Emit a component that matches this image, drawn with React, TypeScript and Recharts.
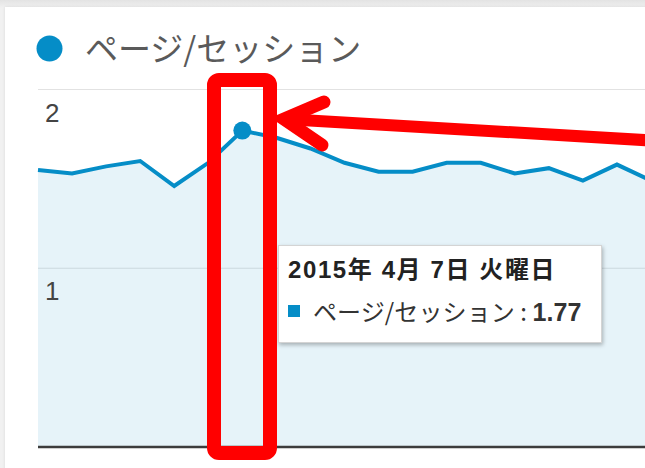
import { AreaChart, Area, XAxis, YAxis, CartesianGrid, Tooltip, ReferenceLine } from 'recharts';

const seriesName = 'ページ/セッション';

const dates = [
  '2015年 4月 1日 水曜日',
  '2015年 4月 2日 木曜日',
  '2015年 4月 3日 金曜日',
  '2015年 4月 4日 土曜日',
  '2015年 4月 5日 日曜日',
  '2015年 4月 6日 月曜日',
  '2015年 4月 7日 火曜日',
  '2015年 4月 8日 水曜日',
  '2015年 4月 9日 木曜日',
  '2015年 4月 10日 金曜日',
  '2015年 4月 11日 土曜日',
  '2015年 4月 12日 日曜日',
  '2015年 4月 13日 月曜日',
  '2015年 4月 14日 火曜日',
  '2015年 4月 15日 水曜日',
  '2015年 4月 16日 木曜日',
  '2015年 4月 17日 金曜日',
  '2015年 4月 18日 土曜日',
  '2015年 4月 19日 日曜日',
];

const pagesPerSession = [
  1.55, 1.53, 1.57, 1.6, 1.46, 1.59, 1.77, 1.73, 1.67, 1.59,
  1.54, 1.54, 1.59, 1.59, 1.53, 1.56, 1.49, 1.58, 1.49,
];

const yTicks = [1, 2];

const data = dates.map((date, i) => ({ date, value: pagesPerSession[i] }));

const BLUE = '#058dc7';
const RED = '#ff0000';
const latin = '"Liberation Sans", Arial, "Noto Sans CJK JP", sans-serif';
const jp = '"Noto Sans CJK JP", "Liberation Sans", sans-serif';

// labels sit just under their gridline, inside the plot
const renderYTick = (props: any) => {
  const { y, payload } = props;
  return (
    <text key={payload.value} x={45} y={y + 32} fontSize={26} fill="#444" fontFamily={latin} textAnchor="start">
      {payload.value}
    </text>
  );
};

const TipBox = ({ active, payload, label }: any) => {
  if (!active || !payload || !payload.length) return null;
  return (
    <div
      style={{
        width: 324,
        height: 98,
        boxSizing: 'border-box',
        background: '#fff',
        border: '1px solid #d4d4d4',
        boxShadow: '1px 2px 4px rgba(0,0,0,0.28)',
        position: 'relative',
      }}
    >
      <svg width={322} height={96} style={{ display: 'block' }}>
        <text x={9} y={32} fontSize={24} fontWeight={700} fill="#222" fontFamily={latin} letterSpacing={1.6}>
          {label}
        </text>
        <rect x={9} y={59} width={12} height={12} fill={BLUE} />
        <text x={34} y={75} fontSize={24} fill="#333" fontFamily={jp} letterSpacing={0.1}>
          {seriesName} :{' '}
          <tspan fontWeight={700} fontFamily={latin} fontSize={25}>
            {Number(payload[0].value).toFixed(2)}
          </tspan>
        </text>
      </svg>
    </div>
  );
};

export default function App() {
  return (
    <div
      style={{
        position: 'fixed',
        left: 0,
        top: 0,
        width: 645,
        height: 468,
        overflow: 'hidden',
        background: 'linear-gradient(#e3e3e3, #f1f1f1 8px)',
      }}
    >
      <div
        style={{
          position: 'absolute',
          left: 5,
          top: 7,
          width: 700,
          height: 500,
          background: '#fff',
          boxShadow: '0 0 3px rgba(0,0,0,0.1)',
        }}
      />
      <div style={{ position: 'absolute', left: 0, top: 0 }}>
        <AreaChart width={700} height={468} data={data} margin={{ top: 89.5, right: 49, bottom: 21, left: 0 }}>
          <CartesianGrid vertical={false} stroke="#e2e2e2" />
          <XAxis dataKey="date" hide />
          <YAxis
            width={38}
            domain={[0, 2]}
            ticks={yTicks}
            axisLine={false}
            tickLine={false}
            tick={renderYTick}
            interval={0}
          />
          <Area
            type="linear"
            dataKey="value"
            name={seriesName}
            stroke={BLUE}
            strokeWidth={4}
            fill={BLUE}
            fillOpacity={0.1}
            dot={false}
            activeDot={{ r: 9, fill: BLUE, stroke: BLUE, strokeWidth: 0 }}
            isAnimationActive={false}
          />
          <ReferenceLine y={0} stroke="#3c3c3c" strokeWidth={2.5} />
          <Tooltip
            defaultIndex={6}
            content={<TipBox />}
            cursor={false}
            position={{ x: 278, y: 245 }}
            isAnimationActive={false}
            wrapperStyle={{ outline: 'none' }}
          />
        </AreaChart>
      </div>
      <svg width={645} height={468} style={{ position: 'absolute', left: 0, top: 0, zIndex: 5, pointerEvents: 'none' }}>
        <circle cx={49.5} cy={48.5} r={13} fill={BLUE} />
        <text x={85} y={61} fontSize={33} fill="#5a5a5a" fontFamily={jp}>
          {seriesName}
        </text>
        <rect x={214} y={80} width={56} height={373} rx={5} fill="none" stroke={RED} strokeWidth={14} />
        <line x1={284} y1={119} x2={660} y2={141} stroke={RED} strokeWidth={12} />
        <polyline
          points="324,102 284,119 322,145"
          fill="none"
          stroke={RED}
          strokeWidth={13}
          strokeLinecap="round"
          strokeLinejoin="miter"
        />
      </svg>
    </div>
  );
}
